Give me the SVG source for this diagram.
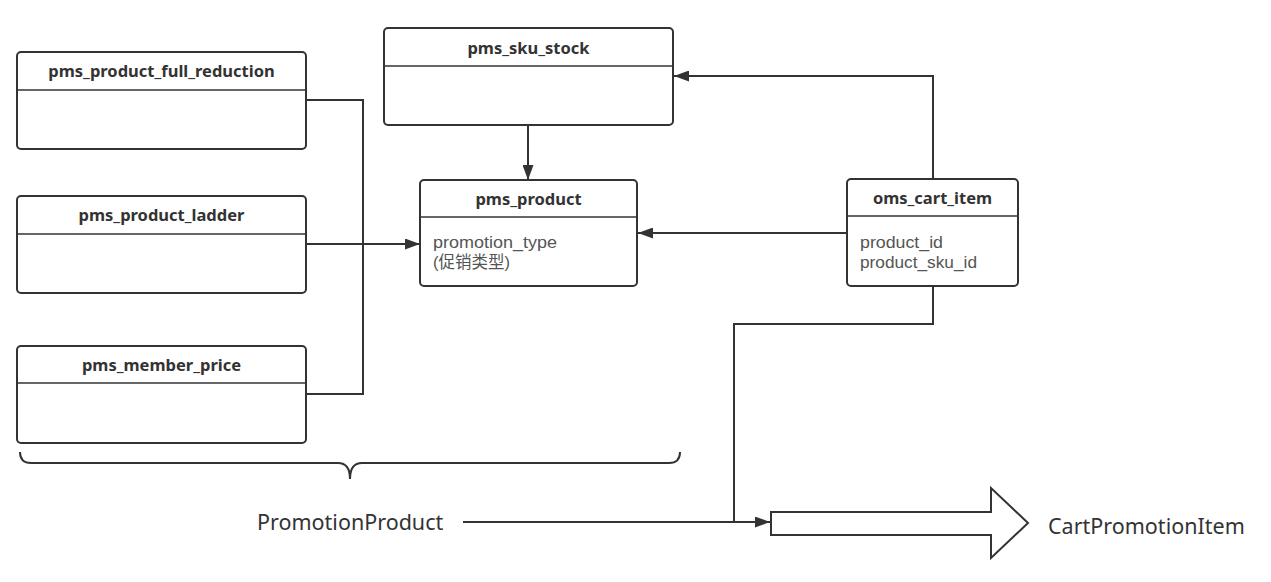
<svg xmlns="http://www.w3.org/2000/svg" width="1271" height="582" viewBox="0 0 1271 582">
<style>
.box{fill:#fff;stroke:#333;stroke-width:2}
.sep{stroke:#333;stroke-width:1.5}
.title{font-family:"Noto Sans","Liberation Sans",sans-serif;font-weight:bold;font-size:16.5px;fill:#333;text-anchor:middle}
.body{font-family:"Liberation Sans","Noto Sans CJK SC",sans-serif;font-size:16.5px;fill:#555}
.lbl{font-family:"Noto Sans","Liberation Sans",sans-serif;font-size:21.5px;fill:#333}
.con{fill:none;stroke:#333;stroke-width:2}
</style>
<defs>
<marker id="arr" viewBox="0 0 15 11" refX="15" refY="5.5" markerWidth="15" markerHeight="11" markerUnits="userSpaceOnUse" orient="auto">
<path d="M0,0 L15,5.5 L0,11 Z" fill="#333"/>
</marker>
</defs>
<rect width="1271" height="582" fill="#fff"/>
<g id="connectors">
<path class="con" d="M306,100 H363 V394 H306"/>
<path class="con" d="M306,244 H420" marker-end="url(#arr)"/>
<path class="con" d="M528,125 V180" marker-end="url(#arr)"/>
<path class="con" d="M933,179 V76 H674" marker-end="url(#arr)"/>
<path class="con" d="M847,233 H638" marker-end="url(#arr)"/>
<path class="con" d="M933,287 V324 H734 V522"/>
<path class="con" d="M463,522 H770" marker-end="url(#arr)"/>
</g>
<g id="pms_product_full_reduction">
<rect class="box" x="17" y="52" width="289" height="97" rx="4"/>
<line class="sep" x1="17" y1="90" x2="306" y2="90"/>
<text class="title" x="161.5" y="77">pms_product_full_reduction</text>
</g>
<g id="pms_product_ladder">
<rect class="box" x="17" y="196" width="289" height="97" rx="4"/>
<line class="sep" x1="17" y1="234" x2="306" y2="234"/>
<text class="title" x="161.5" y="221">pms_product_ladder</text>
</g>
<g id="pms_member_price">
<rect class="box" x="17" y="346" width="289" height="97" rx="4"/>
<line class="sep" x1="17" y1="383" x2="306" y2="383"/>
<text class="title" x="161.5" y="371">pms_member_price</text>
</g>
<g id="pms_sku_stock">
<rect class="box" x="384" y="28" width="289" height="97" rx="4"/>
<line class="sep" x1="384" y1="66" x2="673" y2="66"/>
<text class="title" x="528.5" y="54">pms_sku_stock</text>
</g>
<g id="pms_product">
<rect class="box" x="420" y="180" width="217" height="106" rx="4"/>
<line class="sep" x1="420" y1="217" x2="637" y2="217"/>
<text class="title" x="528.5" y="205">pms_product</text>
<text class="body" x="433" y="248" textLength="124" lengthAdjust="spacingAndGlyphs">promotion_type</text>
<text class="body" x="433" y="268">(促销类型)</text>
</g>
<g id="oms_cart_item">
<rect class="box" x="847" y="179" width="171" height="107" rx="4"/>
<line class="sep" x1="847" y1="216" x2="1018" y2="216"/>
<text class="title" x="932.5" y="204">oms_cart_item</text>
<text class="body" x="860" y="248" textLength="83" lengthAdjust="spacingAndGlyphs">product_id</text>
<text class="body" x="860" y="268" textLength="117" lengthAdjust="spacingAndGlyphs">product_sku_id</text>
</g>
<g id="brace">
<path class="con" d="M20,452 Q20,463 31,463 L338,463 Q350,463 350,479 Q350,463 362,463 L669,463 Q680,463 680,452"/>
</g>
<g id="PromotionProduct">
<text class="lbl" x="257" y="530">PromotionProduct</text>
</g>
<g id="big_arrow">
<path class="con" d="M771,512 H991 V488 L1028,523 L991,558 V535 H771 Z"/>
</g>
<g id="CartPromotionItem">
<text class="lbl" x="1048" y="534">CartPromotionItem</text>
</g>
</svg>
